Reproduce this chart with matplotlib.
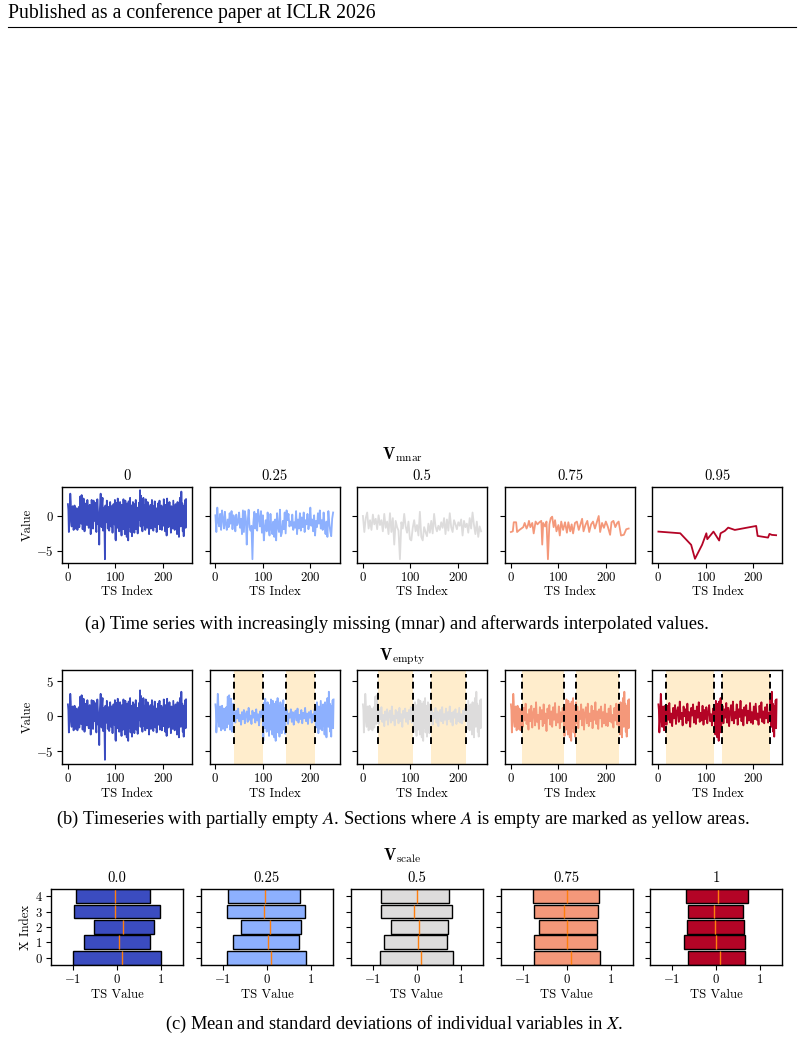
import numpy as np
import matplotlib
matplotlib.use('Agg')
import matplotlib.pyplot as plt
from matplotlib.lines import Line2D

plt.rcParams['font.family'] = 'serif'
plt.rcParams['font.serif'] = ['cmr10']
plt.rcParams['mathtext.fontset'] = 'cm'
plt.rcParams['axes.formatter.use_mathtext'] = True
plt.rcParams['axes.linewidth'] = 1.0

# ---------------- data ----------------
levels_a = ["0", "0.25", "0.5", "0.75", "0.95"]
levels_c = ["0.0", "0.25", "0.5", "0.75", "1"]
cmap_pos = [0.0, 0.25, 0.5, 0.75, 1.0]

# original series ((a) 0 / (b) 0)
base_values = [
    1.7, 0.9, -2.3, -1.0, 1.2, 3.2, 2.1, -0.8, -1.5, 0.3,
    1.4, 0.6, -2.0, -1.1, 1.5, 0.8, -1.8, -0.6, 1.1, 0.2,
    -2.0, -1.4, 0.9, 1.3, -1.6, 0.4, 2.8, 1.5, -1.1, 3.0,
    1.2, -1.9, -0.4, 2.5, 0.6, -2.2, -1.1, 0.9, 1.8, 0.2,
    -1.3, 2.3, 0.5, -0.9, -1.7, 0.3, 1.6, 0.4, -2.6, -0.8,
    2.3, 1.0, -1.0, -1.8, 2.2, 0.6, -0.7, 1.9, 0.8, -1.5,
    -2.3, 0.7, 2.4, 1.1, -1.2, -0.3, -4.1, 0.5, 1.8, 3.2,
    0.9, -1.6, 1.8, 2.6, -2.1, -0.9, 1.2, -1.4, -6.2, 1.5,
    0.6, -0.9, 2.2, 1.0, -1.8, 0.3, 1.3, -2.1, -0.9, 2.0,
    0.7, -1.5, 1.4, -0.2, -2.4, 0.1, 1.7, 0.5, -1.2, 2.3,
    -3.3, -3.5, 1.9, 0.8, -1.7, 2.5, 1.2, -0.6, -2.2, 0.5,
    2.0, 0.7, -1.3, -2.8, 1.6, 0.3, -1.9, 2.4, 1.0, -0.4,
    -2.6, 2.2, 0.6, -0.8, -3.0, 1.8, 0.4, -3.5, 2.1, 0.9,
    -1.6, 2.6, -2.3, -0.6, 1.5, -2.9, 0.2, 2.0, 0.6, -1.1,
    -2.4, 1.7, 0.5, 2.3, -1.9, -0.7, 1.2, -2.5, 0.8, -0.6,
    1.9, 0.3, 3.7, -1.5, 2.9, 0.8, -0.8, -2.2, 0.6, 2.6,
    1.0, -1.4, 1.5, -2.0, 2.4, 0.7, -0.9, -1.7, 2.0, 0.3,
    1.3, -2.6, 0.9, -0.5, 1.6, -1.8, -0.6, 2.3, 1.0, -1.0,
    -2.1, 1.4, 0.2, 2.1, -1.6, 0.5, 1.1, -2.3, -0.8, 0.7,
    1.8, -1.2, 0.3, 2.2, -1.9, -0.6, 0.6, 1.5, -2.0, 0.2,
    1.2, -1.4, 2.4, 0.9, -0.5, -2.2, 1.6, 0.1, -2.8, 2.5,
    1.0, -0.7, -1.6, 0.4, 2.0, -1.1, 0.6, -2.4, 1.4, 0.3,
    -0.3, -1.8, 2.2, 0.8, -0.6, -2.0, 0.5, 1.7, -1.3, 0.3,
    -2.6, 2.0, 0.8, -0.8, -3.0, 0.7, 2.6, 1.2, -1.5, 3.5,
    -1.0, 1.8, -2.2, 0.6, -2.9, 1.5, -0.4, 2.3, -1.7, 2.4,
]

# (a) mnar 0.25, every 2nd index
mnar25_step = 2
mnar25_values = [
    0.1, -2.3, 1.2, -0.8, -1.5, 0.3, -2.0, 0.8, -0.4, -1.8,
    0.6, -1.2, -2.0, -0.5, -1.6, 0.4, -1.1, 0.7, -1.9, 0.1,
    -0.6, -2.2, 0.2, -1.3, -0.9, 0.5, -1.7, -0.4, -2.6, 0.8,
    -2.3, 0.7, -0.3, -4.1, -0.8, 0.9, -1.6, -2.1, -1.4, -6.2,
    -0.9, 0.6, -1.8, 0.3, -2.1, 0.9, -0.3, -1.5, 0.7, -2.4,
    0.1, -3.5, -1.7, -0.6, -2.2, 0.5, -1.3, -2.8, 0.3, -1.9,
    -2.6, -0.8, -3.0, -0.5, -3.5, 0.4, -1.6, -2.3, 0.9, -2.9,
    -2.4, -0.7, -1.9, 0.5, -2.5, 0.8, -0.6, 0.3, -1.5, -0.8,
    -1.4, 0.2, -2.0, -0.9, -1.7, 0.7, -2.6, -0.5, -1.8, 0.4,
    -2.1, -0.2, -1.6, 0.5, -2.3, -0.6, -1.2, 0.3, -1.9, -0.9,
    1.2, -1.4, -0.5, -2.2, 0.1, -2.8, -0.7, -1.6, 0.4, -1.1,
    0.8, -1.8, -0.6, -2.0, 0.5, -1.3, -2.6, -0.8, -3.0, 0.7,
    -1.0, -2.2, -2.9, -0.4, 0.5,
]

# (a) mnar 0.5, every 3rd index
mnar50_step = 3
mnar50_values = [
    0.0, -2.3, -0.3, 0.5, -1.8, -0.6, -2.0, 0.2, -1.2, -0.4,
    -1.9, 0.1, -1.3, -0.6, -2.2, 0.3, -1.7, -0.8, -2.6, 0.4,
    -2.3, -0.3, -4.1, -0.7, -1.6, -2.1, -6.2, -0.9, -1.8, 0.3,
    -1.5, -2.4, -0.8, -3.3, -3.5, -1.7, -0.6, -2.2, -1.3, -2.8,
    0.6, -3.0, -3.5, -1.6, -2.3, -2.9, -1.1, -2.4, -0.7, -2.5,
    0.3, -1.5, -2.2, -1.4, -2.0, -0.9, -1.7, -0.3, -2.6, -0.5,
    -2.1, 0.4, -1.6, -2.3, -0.6, -1.2, -1.9, -0.9, -1.4, -0.5,
    -2.8, -0.7, -1.6, -1.1, -2.4, -0.3, -1.8, 0.5, -1.3, -2.6,
    -0.8, -3.0, -1.5, -2.2,
]

# (a) mnar 0.75, remaining points
mnar75_idx = [0, 4, 6, 11, 13, 18, 22, 26, 29, 33, 36, 38, 41, 45, 48, 52, 56, 60,
              64, 66, 68, 72, 75, 78, 81, 84, 87, 90, 93, 96, 100, 103, 106, 110,
              114, 118, 121, 125, 128, 131, 135, 139, 143, 147, 150, 153, 157, 161,
              165, 169, 173, 177, 181, 185, 188, 192, 196, 200, 204, 209, 212, 216,
              220, 224, 227, 232, 238, 243, 248]
mnar75_values = [-2.3, -2.2, -0.9, -0.9, -2.3, -2.0, -1.8, -1.6, -1.0, -1.8, -1.3,
                 -0.7, -1.6, -1.0, -2.5, -0.8, -1.2, -0.9, -0.7, -4.1, -1.0, -1.5,
                 -0.8, -6.2, -1.2, -0.3, -0.1, -1.6, -0.6, -2.2, -1.3, -2.8, -0.8,
                 -2.0, -0.9, -2.4, -0.9, -2.2, -1.2, -2.5, -1.0, -0.8, -2.0, -1.1,
                 -0.4, -2.2, -1.3, -0.7, -2.3, -1.2, -0.8, -1.8, -0.9, 0.0, -2.3,
                 -1.0, -1.7, -0.8, -1.5, -2.7, -0.9, -0.7, -1.6, -1.0, -0.8, -2.8,
                 -2.7, -1.9, -1.8]

# (a) mnar 0.95, remaining points
mnar95_idx = [0, 46, 69, 77, 92, 101, 103, 116, 128, 131, 140, 147, 161, 206, 209,
              231, 234, 239, 248]
mnar95_values = [-2.24, -2.48, -4.14, -6.14, -4.14, -2.48, -3.33, -2.24, -3.52, -2.48,
                 -2.14, -1.67, -2.0, -1.43, -2.86, -3.1, -2.57, -2.71, -2.76]

# (b) empty sections of A (start, end) per panel
empty_spans = [
    [],
    [(40, 101), (149, 210)],
    [(31, 106), (143, 218)],
    [(23, 111), (138, 227)],
    [(15, 118), (133, 236)],
]
# (b) values inside the empty sections, every 2nd index
empty_step = 2
empty_values = [
    [],
    [[0.4, -0.9, 0.8, -0.3, 1.1, -0.7, 0.2, -1.2, 0.6, -0.4, 0.9, -1.0, 0.3, 0.7, -0.8,
      1.2, -0.5, 0.1, -1.1, 0.8, -0.2, 0.5, -0.9, 1.0, -0.6, 0.3, -1.3, 0.7, -0.1, 0.9, -0.7],
     [-0.5, 0.9, -1.1, 0.4, -0.2, 1.0, -0.8, 0.6, -1.2, 0.3, 0.8, -0.6, 1.1, -0.9, 0.2,
      -0.4, 0.9, -1.0, 0.5, -0.3, 1.2, -0.7, 0.4, -1.1, 0.6, -0.2, 0.8, -0.9, 0.3, -0.6, 1.0]],
    [[0.6, -1.1, 0.9, -0.4, 1.3, -0.8, 0.2, -1.4, 0.7, -0.5, 1.0, -1.2, 0.4, 0.8, -0.9,
      1.4, -0.6, 0.1, -1.3, 0.9, -0.3, 0.6, -1.0, 1.2, -0.7, 0.3, -1.5, 0.8, -0.2, 1.1,
      -0.8, 0.5, -1.1, 0.9, -0.4, 1.3, -0.9, 0.2],
     [-0.7, 1.0, -1.2, 0.5, -0.3, 1.2, -0.9, 0.7, -1.4, 0.4, 0.9, -0.7, 1.3, -1.0, 0.3,
      -0.5, 1.1, -1.2, 0.6, -0.4, 1.4, -0.8, 0.5, -1.3, 0.7, -0.2, 1.0, -1.1, 0.4, -0.7,
      1.2, -0.9, 0.3, -1.0, 0.8, -0.5, 1.1, -0.6]],
    [[0.8, -1.5, 1.2, -0.6, 1.8, -1.1, 0.3, -1.9, 1.0, -0.7, 1.5, -1.6, 0.5, 1.1, -1.3,
      2.0, -0.8, 0.2, -1.8, 1.3, -0.4, 0.9, -1.4, 1.7, -1.0, 0.4, -2.1, 1.1, -0.3, 1.6,
      -1.2, 0.7, -1.5, 1.3, -0.5, 1.9, -1.3, 0.3, -0.9, 1.4, -1.7, 0.6, -0.8, 1.2],
     [-1.0, 1.4, -1.7, 0.7, -0.4, 1.7, -1.3, 1.0, -1.9, 0.5, 1.3, -1.0, 1.8, -1.4, 0.4,
      -0.7, 1.5, -1.7, 0.8, -0.5, 2.0, -1.1, 0.7, -1.8, 1.0, -0.3, 1.4, -1.5, 0.6, -1.0,
      1.7, -1.3, 0.4, -1.4, 1.1, -0.7, 1.5, -0.9, 0.2, -1.6, 1.2, -0.6, 1.8, -1.2, 0.5]],
    [[0.9, -1.2, 1.5, -0.5, 1.9, -0.9, 0.4, -1.4, 1.2, -0.3, 1.6, -1.1, 0.7, 1.3, -0.8,
      2.1, -0.4, 0.5, -1.3, 1.4, 0.0, 1.0, -1.0, 1.8, -0.6, 0.6, -1.5, 1.2, 0.1, 1.7,
      -0.9, 0.8, -1.1, 1.4, -0.2, 2.0, -0.8, 0.5, -0.6, 1.5, -1.2, 0.9, -0.4, 1.3, -1.0,
      0.6, 1.6, -0.7, 0.3, -1.3, 1.1, -0.5],
     [-0.6, 1.5, -1.0, 1.0, -0.2, 1.9, -0.9, 1.2, -1.4, 0.7, 1.6, -0.6, 2.1, -1.0, 0.6,
      -0.3, 1.7, -1.2, 1.0, -0.1, 2.2, -0.7, 0.9, -1.3, 1.3, 0.1, 1.6, -1.0, 0.8, -0.6,
      1.9, -0.9, 0.6, -1.1, 1.4, -0.4, 1.8, -0.5, 0.4, -1.2, 1.5, -0.2, 2.0, -0.8, 0.7,
      -1.0, 1.3, -0.3, 1.7, -0.9, 0.5, -0.7]],
]

# (c) per variable: left / right end of bar and mean, X index 0..4
x_index = [0, 1, 2, 3, 4]
bar_left = [
    [-1.00, -0.75, -0.53, -0.98, -0.93],
    [-0.92, -0.77, -0.58, -0.92, -0.89],
    [-0.83, -0.75, -0.59, -0.81, -0.81],
    [-0.74, -0.75, -0.64, -0.74, -0.77],
    [-0.64, -0.73, -0.66, -0.64, -0.69],
]
bar_right = [
    [0.99, 0.76, 0.83, 0.98, 0.75],
    [0.89, 0.72, 0.77, 0.87, 0.74],
    [0.82, 0.70, 0.72, 0.80, 0.74],
    [0.75, 0.69, 0.68, 0.71, 0.73],
    [0.66, 0.66, 0.63, 0.62, 0.73],
]
bar_mean = [
    [0.11, 0.04, 0.14, -0.05, -0.05],
    [0.09, 0.02, 0.07, -0.07, -0.05],
    [0.10, 0.02, 0.05, -0.06, 0.00],
    [0.09, 0.00, 0.00, -0.06, 0.01],
    [0.10, 0.00, -0.03, -0.05, 0.05],
]

# ---------------- figure ----------------
W, H = 804, 1043
fig = plt.figure(figsize=(W / 100, H / 100), dpi=100)
cmap = plt.get_cmap('coolwarm')
colors = [cmap(p) for p in cmap_pos]

TICK_FS = 9.1
LABEL_FS = 9.2
TITLE_FS = 10.6


def box(left, top, w, h):
    return [left / W, 1 - (top + h) / H, w / W, h / H]


def style(ax):
    ax.tick_params(labelsize=TICK_FS, length=3.5, width=0.8, pad=2.5)


ts_index = np.arange(len(base_values))
lw = 1.3

# header
fig.text(8 / W, 1 - 18.3 / H, "Published as a conference paper at ICLR 2026",
         family='Liberation Serif', fontsize=14.2, va='baseline', ha='left')
fig.add_artist(Line2D([8 / W, 796 / W], [1 - 26.5 / H] * 2, color='k', lw=0.8))

# ---- row (a)
lefts_ab = [62, 209.5, 357, 505, 652.5]
row_a = [fig.add_axes(box(l, 486.7, 130, 76)) for l in lefts_ab]
series_a = [
    (ts_index, base_values),
    (np.arange(0, len(mnar25_values) * mnar25_step, mnar25_step), mnar25_values),
    (np.arange(0, len(mnar50_values) * mnar50_step, mnar50_step), mnar50_values),
    (mnar75_idx, mnar75_values),
    (mnar95_idx, mnar95_values),
]
for i, ax in enumerate(row_a):
    xs, ys = series_a[i]
    ax.plot(xs, ys, color=colors[i], lw=lw)
    ax.set_xlim(-12.45, 261.45)
    ax.set_ylim(-6.7, 4.2)
    ax.set_xticks([0, 100, 200])
    ax.set_yticks([-5, 0])
    ax.set_title(levels_a[i], fontsize=TITLE_FS, pad=4.8)
    ax.set_xlabel("TS Index", fontsize=LABEL_FS, labelpad=1.5)
    if i == 0:
        ax.set_ylabel("Value", fontsize=LABEL_FS, labelpad=2)
    else:
        ax.set_yticklabels([])
    style(ax)

# ---- row (b)
row_b = [fig.add_axes(box(l, 670, 130, 94)) for l in lefts_ab]
for i, ax in enumerate(row_b):
    xs = list(ts_index)
    ys = list(base_values)
    if empty_spans[i]:
        xs, ys = [], []
        for t, v in zip(ts_index, base_values):
            if not any(a <= t < b for a, b in empty_spans[i]):
                xs.append(t)
                ys.append(v)
        for (a, b), vals in zip(empty_spans[i], empty_values[i]):
            xs += list(a + empty_step * np.arange(len(vals)))
            ys += list(vals)
        order = np.argsort(xs)
        xs = np.array(xs)[order]
        ys = np.array(ys)[order]
    ax.plot(xs, ys, color=colors[i], lw=lw, zorder=2)
    for a, b in empty_spans[i]:
        ax.axvspan(a, b, color='orange', alpha=0.2, lw=0, zorder=1)
        ax.vlines([a, b], -4, 6, colors='k', linestyles=(0, (3.5, 2.2)), lw=1.4, zorder=3)
    ax.set_xlim(-12.45, 261.45)
    ax.set_ylim(-6.8, 6.6)
    ax.set_xticks([0, 100, 200])
    ax.set_yticks([-5, 0, 5])
    ax.set_xlabel("TS Index", fontsize=LABEL_FS, labelpad=1.5)
    if i == 0:
        ax.set_ylabel("Value", fontsize=LABEL_FS, labelpad=2)
    else:
        ax.set_yticklabels([])
    style(ax)

# ---- row (c)
lefts_c = [51, 201, 350.7, 500.7, 650]
row_c = [fig.add_axes(box(l, 889, 132, 76)) for l in lefts_c]
for i, ax in enumerate(row_c):
    widths = np.array(bar_right[i]) - np.array(bar_left[i])
    ax.barh(x_index, widths, left=bar_left[i], height=0.9, color=colors[i],
            edgecolor='black', lw=1.0)
    ax.vlines(bar_mean[i], np.array(x_index) - 0.45, np.array(x_index) + 0.45,
              color='#ff7f0e', lw=1.0)
    ax.set_xlim(-1.5, 1.5)
    ax.set_ylim(-0.48, 4.47)
    ax.set_xticks([-1, 0, 1])
    ax.set_yticks(x_index)
    ax.set_title(levels_c[i], fontsize=TITLE_FS, pad=4.8)
    ax.set_xlabel("TS Value", fontsize=LABEL_FS, labelpad=1.5)
    if i == 0:
        ax.set_yticklabels([r'$\mathbf{%d}$' % k for k in x_index])
        ax.set_ylabel("X Index", fontsize=LABEL_FS, labelpad=2)
    else:
        ax.set_yticklabels([])
    style(ax)

# group titles
fig.text(0.5, 1 - 459.3 / H, r'$\mathbf{V}_\mathrm{mnar}$', ha='center', va='baseline', fontsize=11.8)
fig.text(0.5, 1 - 660 / H, r'$\mathbf{V}_\mathrm{empty}$', ha='center', va='baseline', fontsize=11.8)
fig.text(0.5, 1 - 860.7 / H, r'$\mathbf{V}_\mathrm{scale}$', ha='center', va='baseline', fontsize=11.8)

# captions
cap_kw = dict(family='Liberation Serif', math_fontfamily='stix', fontsize=13.3,
              ha='center', va='baseline')
fig.text(396.5 / W, 1 - 629.3 / H,
         "(a) Time series with increasingly missing (mnar) and afterwards interpolated values.",
         **cap_kw)
fig.text(403 / W, 1 - 824.3 / H,
         r"(b) Timeseries with partially empty $A$. Sections where $A$ is empty are marked as yellow areas.",
         **cap_kw)
fig.text(394 / W, 1 - 1029.3 / H,
         r"(c) Mean and standard deviations of individual variables in $X$.",
         **cap_kw)

fig.savefig("out.png", dpi=100)
